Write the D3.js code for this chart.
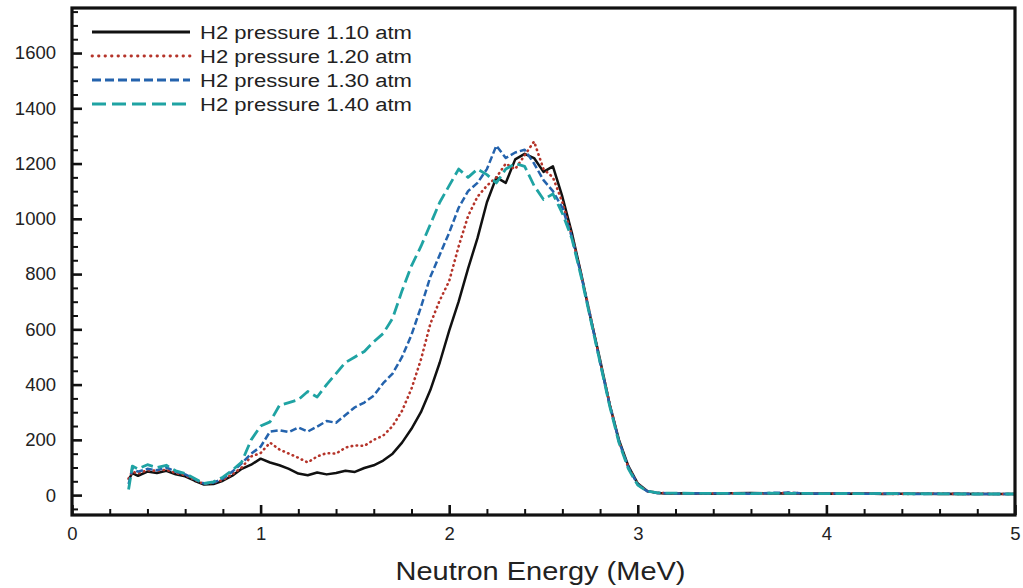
<!DOCTYPE html>
<html>
<head>
<meta charset="utf-8">
<script src="https://cdn.jsdelivr.net/npm/d3@7"></script>
<style>
body { margin: 0; background: white; }
text { font-family: "Liberation Sans", Arial, sans-serif; }
</style>
</head>
<body>
<script>
// neutron energy grid (MeV)
var energy = [0.30,0.32,0.35,0.40,0.45,0.50,0.55,0.60,0.65,0.70,0.75,0.80,0.85,0.90,0.95,
	1.00,1.05,1.10,1.15,1.20,1.25,1.30,1.35,1.40,1.45,1.50,1.55,1.60,1.65,1.70,1.75,1.80,1.85,1.90,1.95,
	2.00,2.05,2.10,2.15,2.20,2.25,2.30,2.35,2.40,2.45,2.50,2.55,2.60,2.65,2.70,2.75,2.80,2.85,2.90,2.95,
	3.00,3.05,3.10,3.15,3.20,3.3,3.4,3.5,3.6,3.7,3.8,3.9,4.0,4.1,4.2,4.3,4.4,4.5,4.6,4.7,4.8,4.9,5.0];

var p110 = [55,80,70,85,80,88,75,68,52,38,40,52,70,95,110,
	132,118,108,95,78,72,82,75,80,88,84,98,108,125,150,190,240,300,380,480,
	595,700,820,930,1060,1150,1130,1215,1235,1220,1170,1190,1080,950,800,640,490,330,200,105,
	42,15,8,6,7,6,5,7,8,6,7,5,6,5,6,4,5,5,4,5,4,4,4];

var p120 = [60,85,78,90,88,92,80,72,55,40,45,55,75,100,140,
	152,190,165,150,135,118,140,152,150,172,180,178,200,215,250,305,385,490,620,705,
	775,900,1010,1080,1120,1150,1200,1180,1230,1280,1180,1150,1060,940,800,645,485,335,195,100,
	40,14,9,7,6,5,6,7,5,6,8,6,5,6,7,5,4,5,6,4,5,4,4];

var p130 = [40,95,85,95,90,100,85,75,58,42,45,60,85,115,150,
	175,230,235,228,245,230,248,268,262,290,318,335,360,405,440,500,580,680,790,870,
	950,1040,1100,1130,1180,1265,1220,1240,1250,1200,1140,1100,1040,935,795,640,480,330,195,100,
	38,14,8,7,6,6,7,6,5,8,9,6,5,7,5,6,5,4,5,5,4,4,4];

var p140 = [20,105,95,110,100,108,88,78,60,42,48,65,90,120,200,
	250,265,325,335,345,375,355,400,440,480,500,520,555,585,640,740,830,900,980,1060,
	1120,1180,1150,1180,1160,1130,1180,1200,1190,1120,1070,1090,1020,930,790,635,480,325,190,95,
	36,14,9,7,7,6,6,6,5,7,6,6,5,6,5,6,5,5,5,4,4,4,4];

var seriesNames = ["H2 pressure 1.10 atm","H2 pressure 1.20 atm","H2 pressure 1.30 atm","H2 pressure 1.40 atm"];
var seriesValues = [p110, p120, p130, p140];
var seriesColors = ["#111111","#b5342a","#2463ad","#1fa3a3"];
var seriesDash = ["none","0.5,4.5","7,3","12,5"];
var seriesWidth = [2.5,2.6,2.5,2.8];

var xTicks = [0,1,2,3,4,5];
var yTicks = [0,200,400,600,800,1000,1200,1400,1600];

var w = 1023;
var h = 588;
var pLeft = 72, pRight = 1015, pTop = 8, pBottom = 515;

var svg = d3.select("body")
			.append("svg")
			.attr("width",w)
			.attr("height",h);

var xScale = d3.scaleLinear()
				.domain([0,5])
				.range([pLeft,pRight]);

var yScale = d3.scaleLinear()
				.domain([-72,1763])
				.range([pBottom,pTop]);

svg.append("clipPath")
	.attr("id","clip")
	.append("rect")
	.attr("x",pLeft)
	.attr("y",pTop)
	.attr("width",pRight-pLeft)
	.attr("height",pBottom-pTop);

// minor ticks
var xMinor = d3.range(0,5.001,0.2).filter(function(d){return Math.abs(d-Math.round(d))>0.01;});
var yMinor = d3.range(-50,1751,50).filter(function(d){return d%200!=0;});

var xAxis = d3.axisBottom(xScale).tickValues(xTicks).tickSize(-10).tickPadding(12)
				.tickFormat(d3.format("d"));
var xAxisMinor = d3.axisBottom(xScale).tickValues(xMinor).tickSize(-6).tickFormat("");
var yAxis = d3.axisLeft(yScale).tickValues(yTicks).tickSize(-10).tickPadding(16)
				.tickFormat(d3.format("d"));
var yAxisMinor = d3.axisLeft(yScale).tickValues(yMinor).tickSize(-6).tickFormat("");

var gx = svg.append("g")
	.attr("transform","translate(0,"+pBottom+")")
	.call(xAxis);
svg.append("g")
	.attr("transform","translate(0,"+pBottom+")")
	.call(xAxisMinor);
var gy = svg.append("g")
	.attr("transform","translate("+pLeft+",0)")
	.call(yAxis);
svg.append("g")
	.attr("transform","translate("+pLeft+",0)")
	.call(yAxisMinor);

svg.selectAll(".domain").remove();
svg.selectAll(".tick line").attr("stroke","#111").attr("stroke-width",2);
gx.selectAll(".tick line").attr("stroke-width",2.6);
gy.selectAll(".tick line").attr("stroke-width",2.6);
svg.selectAll(".tick text").attr("font-size",18.5).attr("fill","#222")
	.style("font-family","'Liberation Sans', Arial, sans-serif");

var line = d3.line()
	.x(function(d){return xScale(d[0]);})
	.y(function(d){return yScale(d[1]);});

svg.append("g")
	.attr("clip-path","url(#clip)")
	.selectAll("path")
	.data(seriesValues)
	.enter()
	.append("path")
	.attr("d",function(d){return line(energy.map(function(e,i){return [e,d[i]];}));})
	.attr("fill","none")
	.attr("stroke",function(d,i){return seriesColors[i];})
	.attr("stroke-width",function(d,i){return seriesWidth[i];})
	.attr("stroke-dasharray",function(d,i){return seriesDash[i];})
	.attr("stroke-linecap",function(d,i){return i==1 ? "round" : "butt";})
	.attr("stroke-linejoin","round");

// frame
svg.append("rect")
	.attr("x",pLeft)
	.attr("y",pTop)
	.attr("width",pRight-pLeft)
	.attr("height",pBottom-pTop)
	.attr("fill","none")
	.attr("stroke","#111")
	.attr("stroke-width",3.2);

// legend
var legend = svg.selectAll(".leg")
	.data(seriesNames)
	.enter()
	.append("g")
	.attr("class","leg")
	.attr("transform",function(d,i){return "translate(92,"+(32+i*24)+")";});

legend.append("line")
	.attr("x1",0)
	.attr("x2",98)
	.attr("y1",0)
	.attr("y2",0)
	.attr("stroke",function(d,i){return seriesColors[i];})
	.attr("stroke-width",function(d,i){return i==1 ? 2.8 : 3;})
	.attr("stroke-dasharray",function(d,i){return i==0 ? "none" : (i==1 ? "0.5,6" : (i==2 ? "9,4" : "14,6"));})
	.attr("stroke-linecap",function(d,i){return i==1 ? "round" : "butt";});

legend.append("text")
	.attr("x",108)
	.attr("y",6.5)
	.text(function(d){return d;})
	.attr("font-size",18)
	.attr("textLength",212)
	.attr("lengthAdjust","spacingAndGlyphs")
	.attr("fill","#222");

svg.append("text")
	.attr("x",(pLeft+pRight)/2 - 3)
	.attr("y",580)
	.text("Neutron Energy (MeV)")
	.attr("text-anchor","middle")
	.attr("font-size",25)
	.attr("textLength",290)
	.attr("lengthAdjust","spacingAndGlyphs")
	.attr("fill","#222");
</script>
</body>
</html>
